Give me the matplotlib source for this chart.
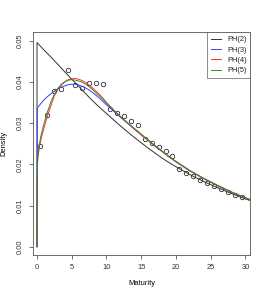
import matplotlib
matplotlib.use('agg')
import matplotlib.pyplot as plt

plt.rcParams['font.family'] = ['Liberation Sans', 'DejaVu Sans']

# observed densities by maturity
maturity = [0.5, 1.5, 2.5, 3.5, 4.5, 5.5, 6.5, 7.5, 8.5, 9.5,
            10.5, 11.5, 12.5, 13.5, 14.5, 15.5, 16.5, 17.5, 18.5, 19.5,
            20.5, 21.5, 22.5, 23.5, 24.5, 25.5, 26.5, 27.5, 28.5, 29.5]
observed = [0.0245, 0.0320, 0.0378, 0.0382, 0.0428, 0.0393, 0.0385, 0.0398, 0.0396, 0.0395,
            0.0335, 0.0325, 0.0316, 0.0306, 0.0296, 0.0261, 0.0252, 0.0241, 0.0231, 0.0221,
            0.0189, 0.0179, 0.0171, 0.0162, 0.0154, 0.0147, 0.0139, 0.0133, 0.0126, 0.0120]

# fitted phase-type densities
ph2_x = [0, 0, 1, 2, 3, 4, 5, 6, 7, 8, 9, 10, 11, 12, 13, 14, 15, 16, 17, 18, 19, 20,
         22, 24, 26, 28, 30, 31]
ph2_y = [0, 0.0495, 0.0477, 0.0460, 0.0442, 0.0424, 0.0406, 0.0389, 0.0371, 0.0354, 0.0338,
         0.0323, 0.0308, 0.0293, 0.0279, 0.0265, 0.0252, 0.0239, 0.0227, 0.0215, 0.0204,
         0.0194, 0.0175, 0.0158, 0.0143, 0.0129, 0.0116, 0.0110]

grid_x = [0, 0.03, 0.1, 0.3, 0.6, 1, 1.5, 2, 2.5, 3, 3.5, 4, 4.5, 5, 5.5, 6, 6.5, 7, 7.5, 8,
          8.5, 9, 9.5, 10, 11, 12, 13, 14, 15, 16, 17, 18, 19, 20, 22, 24, 26, 28, 30, 31]
ph3_y = [0, 0.0336, 0.0338, 0.0342, 0.0348, 0.0356, 0.0364, 0.0371, 0.0377, 0.0383,
         0.0387, 0.0390, 0.0393, 0.0394, 0.0394, 0.0392, 0.0389, 0.0385, 0.0380, 0.0374,
         0.0367, 0.0360, 0.0352, 0.0344, 0.0329, 0.0314, 0.0300, 0.0286, 0.0272, 0.0258,
         0.0244, 0.0231, 0.0218, 0.0206, 0.0184, 0.0165, 0.0148, 0.0132, 0.0118, 0.0112]
ph4_y = [0, 0.016, 0.0212, 0.0237, 0.0262, 0.0288, 0.0317, 0.0342, 0.0366, 0.0381,
         0.0392, 0.0400, 0.0405, 0.0407, 0.0408, 0.0406, 0.0403, 0.0398, 0.0392, 0.0385,
         0.0377, 0.0369, 0.0360, 0.0350, 0.0332, 0.0315, 0.0300, 0.0285, 0.0271, 0.0257,
         0.0244, 0.0231, 0.0218, 0.0206, 0.0184, 0.0165, 0.0148, 0.0132, 0.0118, 0.0112]
ph5_y = [0, 0.017, 0.0218, 0.0245, 0.0272, 0.0298, 0.0327, 0.0351, 0.0370, 0.0384,
         0.0394, 0.0400, 0.0404, 0.0405, 0.0404, 0.0402, 0.0399, 0.0394, 0.0388, 0.0381,
         0.0373, 0.0365, 0.0357, 0.0348, 0.0332, 0.0316, 0.0301, 0.0287, 0.0273, 0.0259,
         0.0245, 0.0232, 0.0219, 0.0207, 0.0185, 0.0166, 0.0149, 0.0133, 0.0119, 0.0113]

labels = ['PH(2)', 'PH(3)', 'PH(4)', 'PH(5)']
colors = ['#333333', '#3a3aff', '#ff2a2a', '#2e8b2e']
x_ticks = [0, 5, 10, 15, 20, 25, 30]
y_ticks = [0.00, 0.01, 0.02, 0.03, 0.04, 0.05]

fig = plt.figure(figsize=(2.67, 2.96), dpi=100)
ax = fig.add_axes([0.1225, 0.1385, 0.815, 0.7525])

ax.plot(maturity, observed, 'o', mfc='none', mec='#222222', ms=3.2, mew=0.55, zorder=1)
ax.plot(ph2_x, ph2_y, color=colors[0], lw=0.7, label=labels[0])
ax.plot(grid_x, ph3_y, color=colors[1], lw=0.7, label=labels[1])
ax.plot(grid_x, ph4_y, color=colors[2], lw=0.7, label=labels[2])
ax.plot(grid_x, ph5_y, color=colors[3], lw=0.7, label=labels[3])

ax.set_xlim(-0.62, 30.7)
ax.set_ylim(-0.002, 0.052)
ax.set_xticks(x_ticks)
ax.set_yticks(y_ticks)
ax.set_yticklabels(['%.2f' % v for v in y_ticks], rotation=90, va='center')
ax.tick_params(labelsize=5.4, length=3, width=0.5, pad=3.5, colors='#333333')
for s in ax.spines.values():
    s.set_linewidth(0.6)
    s.set_color('#555555')
ax.set_xlabel('Maturity', fontsize=5.4, labelpad=6.5)
ax.set_ylabel('Density', fontsize=5.4, labelpad=6.5)

leg = ax.legend(loc='upper right', fontsize=5.4, frameon=True, fancybox=False,
                borderaxespad=0, borderpad=0.5, labelspacing=0.42,
                handlelength=1.4, handletextpad=0.75)
leg.get_frame().set_edgecolor('#555555')
leg.get_frame().set_linewidth(0.6)
for t in leg.get_texts():
    t.set_color('#222222')

plt.savefig('out.png', dpi=100)
plt.close()
